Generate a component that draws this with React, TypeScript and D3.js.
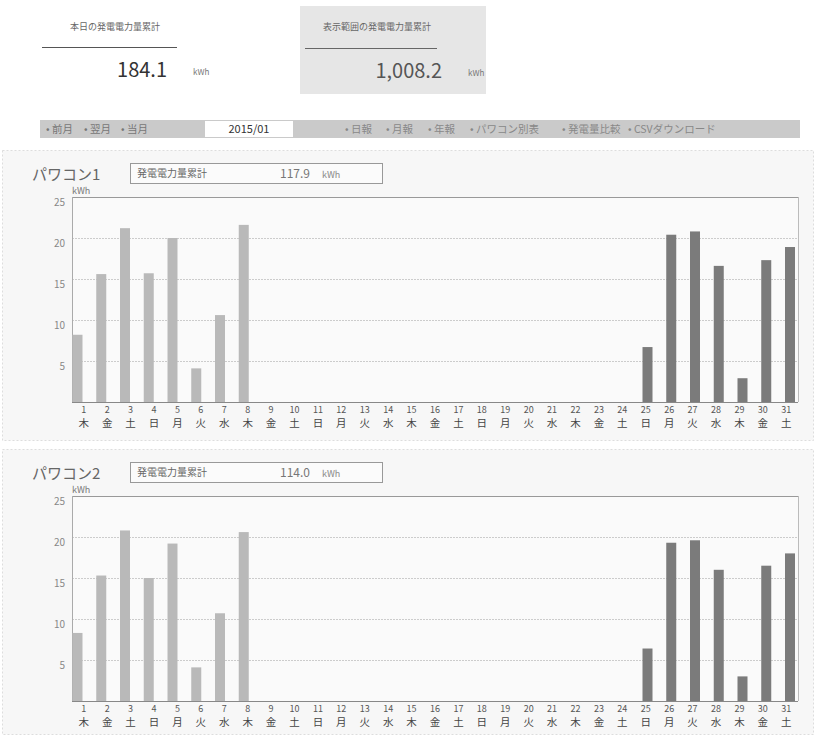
import React from "react";
import * as d3 from "d3";

const days = ["1","2","3","4","5","6","7","8","9","10","11","12","13","14","15","16","17","18","19","20","21","22","23","24","25","26","27","28","29","30","31"];
const weekdays = ["木","金","土","日","月","火","水","木","金","土","日","月","火","水","木","金","土","日","月","火","水","木","金","土","日","月","火","水","木","金","土"];
const pc1Values = [8.2,15.6,21.2,15.7,20.0,4.1,10.6,21.6,0,0,0,0,0,0,0,0,0,0,0,0,0,0,0,0,6.7,20.4,20.8,16.6,2.9,17.3,18.9];
const pc2Values = [8.3,15.3,20.8,15.0,19.2,4.1,10.7,20.6,0,0,0,0,0,0,0,0,0,0,0,0,0,0,0,0,6.4,19.3,19.6,16.0,3.0,16.5,18.0];
const yTicks = [5, 10, 15, 20, 25];
const navLeft = ["前月", "翌月", "当月"];
const navRight = ["日報", "月報", "年報", "パワコン別表", "発電量比較", "CSVダウンロード"];
const charts = [
  { title: "パワコン1", total: "117.9", values: pc1Values },
  { title: "パワコン2", total: "114.0", values: pc2Values },
];

const FONT = "'Noto Sans CJK JP', 'Noto Sans', sans-serif";
const PL = 72, PR = 798;
const navLeftX = [46, 84, 121];
const navRightX = [345, 386, 428, 470, 562, 628];

function Chart({ y0, title, total, values }: { y0: number; title: string; total: string; values: number[] }) {
  const top = y0 + 47;
  const bottom = y0 + 252;
  const y = d3.scaleLinear().domain([0, 25]).range([bottom, top]);
  const xBar = d3.scaleBand<string>().domain(days).range([72.5, 795]).paddingInner(0.579).paddingOuter(0);
  const xLab = d3.scaleBand<string>().domain(days).range([PL, PR]);
  return (
    <g>
      <text x={32} y={y0 + 30} fontSize={15} fill="#666" fontFamily={FONT}>{title}</text>
      <rect x={130.5} y={y0 + 13.5} width={252} height={20} fill="#fbfbfb" stroke="#999" strokeWidth={1} />
      <text x={137} y={y0 + 27} fontSize={10} fill="#666" fontFamily={FONT}>発電電力量累計</text>
      <text x={280} y={y0 + 28} fontSize={12} fill="#777" fontFamily={FONT}>{total}</text>
      <text x={322} y={y0 + 28} fontSize={9} fill="#888" fontFamily={FONT}>kWh</text>
      <text x={72} y={y0 + 44} fontSize={9} fill="#777" fontFamily={FONT}>kWh</text>
      <rect x={PL} y={top} width={PR - PL} height={bottom - top} fill="#fafafa" />
      {yTicks.map((t) => (
        <g key={t}>
          <line x1={PL} x2={PR} y1={y(t) + 0.5} y2={y(t) + 0.5} stroke={t === 25 ? "#999" : "#ccc"} strokeWidth={1} strokeDasharray={t === 25 ? undefined : "2,1"} />
          <text x={65} y={y(t) + 9} fontSize={10} fill="#888" textAnchor="end" fontFamily={FONT}>{t}</text>
        </g>
      ))}
      <line x1={PL + 0.5} x2={PL + 0.5} y1={top} y2={bottom} stroke="#aaa" />
      <line x1={PR + 0.5} x2={PR + 0.5} y1={top} y2={bottom} stroke="#bbb" />
      {values.map((v, i) => (
        v > 0 ? (
          <rect key={i} x={xBar(days[i])} y={y(v)} width={xBar.bandwidth()} height={bottom - y(v)}
            fill={i >= 24 ? "#7b7b7b" : "#b9b9b9"} />
        ) : null
      ))}
      <line x1={PL} x2={PR} y1={bottom + 0.5} y2={bottom + 0.5} stroke="#888" />
      {days.map((d, i) => (
        <g key={d}>
          <text x={(xLab(d) as number) + xLab.bandwidth() / 2} y={bottom + 11} fontSize={9} fill="#555" textAnchor="middle" fontFamily={FONT}>{d}</text>
          <text x={(xLab(d) as number) + xLab.bandwidth() / 2} y={bottom + 25} fontSize={10.5} fill="#444" textAnchor="middle" fontFamily={FONT}>{weekdays[i]}</text>
        </g>
      ))}
    </g>
  );
}

export default function App() {
  return (
    <svg width={817} height={736} style={{ position: "absolute", left: 0, top: 0, background: "#fff" }}>
      {/* summary */}
      <text x={70} y={30} fontSize={9} fill="#666" fontFamily={FONT}>本日の発電電力量累計</text>
      <line x1={42} x2={177} y1={47.5} y2={47.5} stroke="#555" />
      <text x={167} y={77} fontSize={20} fill="#333" textAnchor="end" fontFamily={FONT}>184.1</text>
      <text x={193} y={75} fontSize={8} fill="#777" fontFamily={FONT}>kWh</text>

      <rect x={300} y={6} width={186} height={88} fill="#e6e6e6" />
      <text x={323} y={30} fontSize={9} fill="#666" fontFamily={FONT}>表示範囲の発電電力量累計</text>
      <line x1={305} x2={437} y1={48.5} y2={48.5} stroke="#666" />
      <text x={442} y={78} fontSize={20} fill="#555" textAnchor="end" fontFamily={FONT}>1,008.2</text>
      <text x={468} y={76} fontSize={8} fill="#777" fontFamily={FONT}>kWh</text>

      {/* nav bar */}
      <rect x={40} y={120} width={760} height={18} fill="#cacaca" />
      {navLeft.map((t, i) => (
        <text key={t} x={navLeftX[i]} y={133} fontSize={10.5} fill="#777" fontFamily={FONT}>{"• " + t}</text>
      ))}
      <rect x={205} y={121} width={88} height={16} fill="#fff" />
      <text x={249} y={133} fontSize={11} fill="#333" textAnchor="middle" fontFamily={FONT}>2015/01</text>
      {navRight.map((t, i) => (
        <text key={t} x={navRightX[i]} y={133} fontSize={10.5} fill="#888" fontFamily={FONT}>{"• " + t}</text>
      ))}

      {/* chart panels */}
      <rect x={2.5} y={150.5} width={811} height={290} fill="#f7f7f7" stroke="#ddd" strokeDasharray="2,2" />
      <rect x={2.5} y={449.5} width={811} height={285} fill="#f7f7f7" stroke="#ddd" strokeDasharray="2,2" />
      {charts.map((c, i) => (
        <Chart key={i} y0={150 + i * 299} title={c.title} total={c.total} values={c.values} />
      ))}
    </svg>
  );
}
